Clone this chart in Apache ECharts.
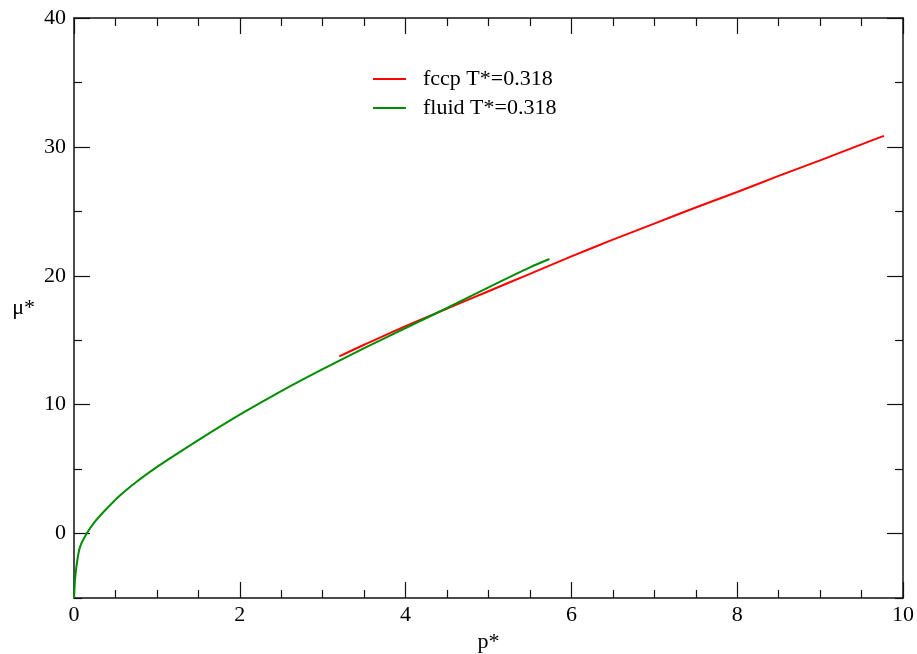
<!DOCTYPE html>
<html>
<head>
<meta charset="utf-8">
<script src="https://cdn.jsdelivr.net/npm/echarts@6/dist/echarts.min.js"></script>
<style>html,body{margin:0;padding:0;background:#fff;}#c{width:917px;height:654px;}</style>
</head>
<body>
<div id="c"></div>
<script>
// ---- data ----
const fccpP  = [3.2, 3.5, 4.0, 4.5, 5.0, 5.5, 6.0, 6.5, 7.0, 7.5, 8.0, 8.5, 9.0, 9.5, 9.77];
const fccpMu = [13.75, 14.65, 16.1, 17.45, 18.8, 20.15, 21.5, 22.8, 24.05, 25.3, 26.5, 27.75, 28.95, 30.2, 30.85];
const fluidP  = [0, 0.003, 0.012, 0.035, 0.072, 0.153, 0.25, 0.353, 0.554, 0.755, 0.955, 1.157, 1.5, 2.0, 2.5, 3.0, 3.5, 4.0, 4.5, 5.0, 5.5, 5.735];
const fluidMu = [-5, -4.5, -3.6, -2.3, -1.05, 0, 0.9, 1.65, 2.95, 4.02, 4.96, 5.83, 7.25, 9.22, 11.05, 12.75, 14.38, 15.95, 17.5, 19.1, 20.65, 21.3];
const seriesNames = ['fccp T*=0.318', 'fluid T*=0.318'];
const xTickLabels = [0, 2, 4, 6, 8, 10];
const yTickLabels = [0, 10, 20, 30, 40];
const yMinorTicks = [-5, 5, 15, 25, 35];

const FONT = '"Liberation Serif", "Times New Roman", serif';
const AX = '#111';
const gridRect = {left: 74, top: 18, right: 14, bottom: 56, outerBoundsMode: 'none', containLabel: false};

function xAx(gridIndex, position, showLabel, show) {
  return {
    type: 'value', gridIndex, position, show,
    min: 0, max: 10, interval: 2,
    axisLine: {show: true, onZero: false, lineStyle: {color: AX, width: 1.5}},
    axisTick: {show: true, inside: true, length: 16, lineStyle: {color: AX, width: 1.2}},
    minorTick: {show: true, splitNumber: 4, length: 8, lineStyle: {color: AX, width: 1.2}},
    splitLine: {show: false}, minorSplitLine: {show: false},
    axisLabel: {show: showLabel, color: '#000', fontFamily: FONT, fontSize: 22, margin: 6,
      customValues: xTickLabels},
    name: showLabel ? 'p*' : '', nameLocation: 'middle', nameGap: 27,
    nameTextStyle: {color: '#000', fontFamily: FONT, fontSize: 22}
  };
}
function yAx(gridIndex, position, major, showLabel) {
  return {
    type: 'value', gridIndex, position,
    min: -5, max: 40,
    axisLine: {show: major, onZero: false, lineStyle: {color: AX, width: 1.5}},
    axisTick: {show: true, inside: true, length: major ? 16 : 8,
      customValues: major ? yTickLabels : yMinorTicks, lineStyle: {color: AX, width: 1.2}},
    splitLine: {show: false},
    axisLabel: {show: showLabel, color: '#000', fontFamily: FONT, fontSize: 22, margin: 8,
      customValues: yTickLabels},
    name: showLabel ? 'μ*' : '', nameLocation: 'middle', nameRotate: 0, nameGap: 39,
    nameTextStyle: {color: '#000', fontFamily: FONT, fontSize: 22}
  };
}

const chart = echarts.init(document.getElementById('c'), null, {renderer: 'canvas'});
chart.setOption({
  animation: false,
  backgroundColor: '#fff',
  grid: [Object.assign({}, gridRect), Object.assign({}, gridRect)],
  xAxis: [xAx(0, 'bottom', true, true), xAx(0, 'top', false, true), xAx(1, 'bottom', false, false)],
  yAxis: [yAx(0, 'left', true, true), yAx(0, 'right', true, false), yAx(1, 'left', false, false), yAx(1, 'right', false, false)],
  legend: {
    orient: 'vertical', left: 373, top: 68, padding: 0,
    icon: 'rect', itemWidth: 33, itemHeight: 2, itemGap: 7,
    textStyle: {color: '#000', fontFamily: FONT, fontSize: 22, lineHeight: 22, padding: [0, 0, 0, 12]},
    data: seriesNames
  },
  series: [
    {name: seriesNames[0], type: 'line', xAxisIndex: 0, yAxisIndex: 0, symbol: 'none', smooth: 0.3,
     color: '#ff0000', lineStyle: {color: '#ff0000', width: 2},
     data: fccpP.map((p, i) => [p, fccpMu[i]])},
    {name: seriesNames[1], type: 'line', xAxisIndex: 0, yAxisIndex: 0, symbol: 'none', smooth: 0.3,
     color: '#008c00', lineStyle: {color: '#008c00', width: 2},
     data: fluidP.map((p, i) => [p, fluidMu[i]])}
  ]
});
</script>
</body>
</html>
